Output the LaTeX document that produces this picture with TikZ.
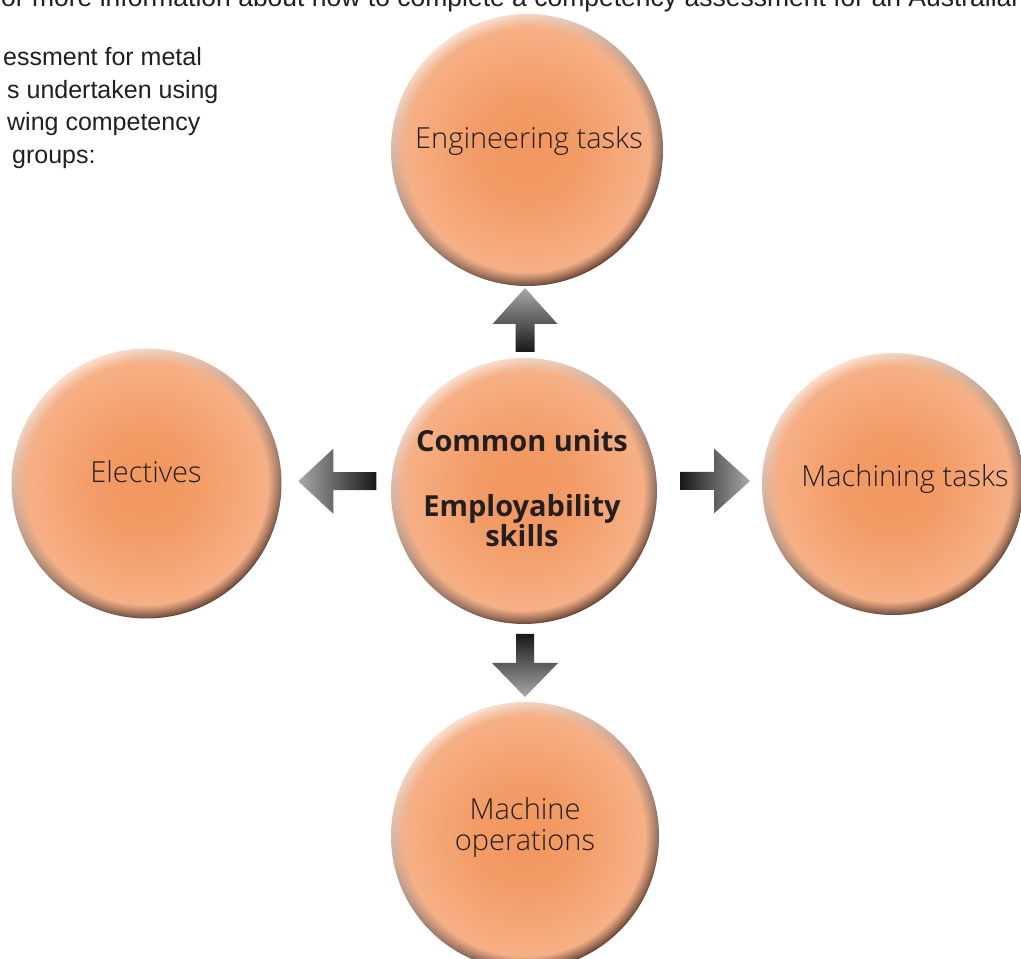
\documentclass[tikz,border=0pt]{standalone}
\usepackage{fontspec}
\setmainfont{Open Sans}
\newfontfamily\lightfont{Open Sans Light}
\newfontfamily\arialfont{Liberation Sans}
\usetikzlibrary{calc,fadings,shadings}
\definecolor{ballmid}{RGB}{242,150,94}
\definecolor{balledge}{RGB}{247,180,140}
\definecolor{rimlight}{RGB}{252,224,207}
\definecolor{rimmid}{RGB}{236,160,120}
\definecolor{rimdark}{RGB}{105,68,52}
\definecolor{txt}{RGB}{35,31,32}
\definecolor{labeltxt}{RGB}{35,31,32}
\definecolor{arrowdark}{RGB}{24,24,26}
\definecolor{arrowmid}{RGB}{48,48,52}
\definecolor{arrowlight}{RGB}{168,168,170}
\pgfdeclareradialshading{ballshading}{\pgfpointorigin}{color(0bp)=(ballmid); color(10bp)=(ballmid!80!balledge); color(25bp)=(balledge); color(50bp)=(balledge)}
\tikzset{
  ballnode/.style={circle, inner sep=0pt, minimum size=#1},
  rim/.style={shading=axis, top color=rimlight, middle color=rimmid, bottom color=rimdark, shading angle=30},
  core/.style={shading=ballshading, path fading=circle with fuzzy edge 10 percent},
  label/.style={font=\lightfont\fontsize{29}{31}\selectfont, text=labeltxt, align=center, inner sep=0pt},
  bodytext/.style={font=\arialfont\fontsize{25}{29}\selectfont, text=txt, inner sep=0pt, anchor=base west},
  arrowbody/.style={draw=none},
}
\newcommand\drawball[3]{%
  \node[ballnode=#3*2pt] (#1) at (#2) {};
  \shade[rim] (#1.center) circle[radius=#3pt];
  \shade[core] (#1.center) circle[radius=#3pt-1pt];
}
\begin{document}
\begin{tikzpicture}[x=1pt,y=1pt]
\useasboundingbox (0,0) rectangle (1021,959);
\clip (0,0) rectangle (1021,959);
\fill[white] (0,0) rectangle (1021,959);

% text on the page
\node[bodytext, font=\arialfont\fontsize{26.5}{29}\selectfont] (topline) at (1,952) {or more information about how to complete a competency assessment for an Australian};
\node[bodytext] (p1) at (3,893) {essment for metal};
\node[bodytext] (p2) at (7,860.5) {s undertaken using};
\node[bodytext] (p3) at (7,828) {wing competency};
\node[bodytext] (p4) at (12,795.5) {groups:};

% balls
\drawball{eng}{527,809}{136}
\drawball{ctr}{524,468}{133}
\drawball{elec}{146.5,475.5}{135}
\drawball{mach}{893,475}{131}
\drawball{ops}{525,123}{134}

% labels
\node[label, anchor=base] (engl) at (529,810) {Engineering tasks};
\node[label, anchor=base] (elecl) at (146,476) {Electives};
\node[label, anchor=base] (machl) at (905,472) {Machining tasks};
\node[label, anchor=base] (opsl) at (525,108) {Machine\\operations};
\node[label, anchor=base, font=\bfseries\fontsize{29}{30}\selectfont] (ctrl) at (522,412) {Common units\\[35pt]Employability\\skills};

% arrows (connectors)
\coordinate (aup) at ($(ctr.north)!0.5!(eng.south)+(-0.5,2)$);
\coordinate (aleft) at ($(ctr.west)!0.5!(elec.east)+(1,6)$);
\coordinate (aright) at ($(ctr.east)!0.5!(mach.west)+(5.5,6.5)$);
\coordinate (adown) at ($(ctr.south)!0.5!(ops.north)+(0.5,-2.5)$);

\begin{scope}[shift={(aup)}]
\shade[arrowbody, top color=arrowlight, middle color=arrowmid, bottom color=arrowdark]
  (-9.5,-32) -- (-9.5,-4) -- (-32.5,-4) -- (0,32) -- (32.5,-4) -- (9.5,-4) -- (9.5,-32) -- cycle;
\end{scope}
\begin{scope}[shift={(aleft)}]
\shade[arrowbody, left color=arrowlight, middle color=arrowmid, right color=arrowdark]
  (39,-9) -- (-4,-9) -- (-4,-32.5) -- (-39,0) -- (-4,32.5) -- (-4,9) -- (39,9) -- cycle;
\end{scope}
\begin{scope}[shift={(aright)}]
\shade[arrowbody, left color=arrowdark, middle color=arrowmid, right color=arrowlight]
  (-35,-9) -- (-1,-9) -- (-1,-32.5) -- (35,0) -- (-1,32.5) -- (-1,9) -- (-35,9) -- cycle;
\end{scope}
\begin{scope}[shift={(adown)}]
\shade[arrowbody, top color=arrowdark, middle color=arrowmid, bottom color=arrowlight]
  (-9,31.5) -- (-9,2.5) -- (-33,2.5) -- (0,-31.5) -- (33,2.5) -- (9,2.5) -- (9,31.5) -- cycle;
\end{scope}
\end{tikzpicture}
\end{document}
